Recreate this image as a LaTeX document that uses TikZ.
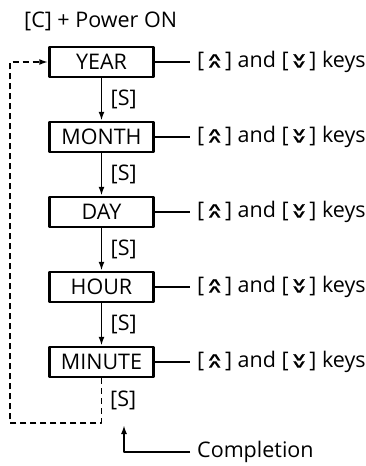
\documentclass[tikz,border=0pt]{standalone}
\usepackage{fontspec}
\setmainfont{Open Sans}
\newfontfamily\symfont[FakeBold=1]{DejaVu Sans}
\usetikzlibrary{arrows.meta}
\newcommand{\chev}[1]{\scalebox{1.1}[0.5]{#1}}
\newcommand{\upkey}{\kern0.08em{\symfont\ooalign{\raisebox{0em}{\chev{∧}}\cr\raisebox{0.33em}{\chev{∧}}}}\kern0.08em}
\newcommand{\downkey}{\kern0.08em{\symfont\ooalign{\raisebox{0em}{\chev{∨}}\cr\raisebox{0.33em}{\chev{∨}}}}\kern0.08em}
\begin{document}
\begin{tikzpicture}[x=1pt,y=-1pt,>={Latex[length=9pt,width=6pt]}, font=\fontsize{21.5}{24}\selectfont, line join=round,
  box/.style={draw, line width=2.5pt, minimum width=104pt, minimum height=30pt, inner sep=0pt},
  link/.style={line width=1.8pt}]
\useasboundingbox (0,0) rectangle (366,466);
\node[anchor=base west, inner sep=0pt] (start) at (24,27) {[C] + Power ON};
\foreach \n/\t/\y in {year/YEAR/62, month/MONTH/137, day/DAY/212, hour/HOUR/287, minute/MINUTE/362}{
  \node[box] (\n) at (101.5,\y) {\t};
  \coordinate (\n k) at (190,\y);
  \draw[link] (\n.east) -- (\n k);
  \node[anchor=west, inner sep=0pt] (\n t) at (197,\y) {[\upkey] and [\downkey] keys};
}
\draw[link,->] (year) -- (month) node[midway, right=5pt] (s1) {[S]};
\draw[link,->] (month) -- (day) node[midway, right=5pt] (s2) {[S]};
\draw[link,->] (day) -- (hour) node[midway, right=5pt] (s3) {[S]};
\draw[link,->] (hour) -- (minute) node[midway, right=5pt] (s4) {[S]};
% back to the first step
\coordinate (back) at (10,423);
\draw[link, dashed, dash pattern=on 6pt off 4pt, ->] (minute.south) |- (back) |- (year.west);
\node[anchor=west, inner sep=0pt] (s5) at (110,400) {[S]};
\coordinate (done) at (124,425);
\coordinate (donek) at (190,452);
\draw[link,->] (donek) -| (done);
\node[anchor=west, inner sep=0pt] (donet) at (197,452) {Completion};
\end{tikzpicture}
\end{document}
